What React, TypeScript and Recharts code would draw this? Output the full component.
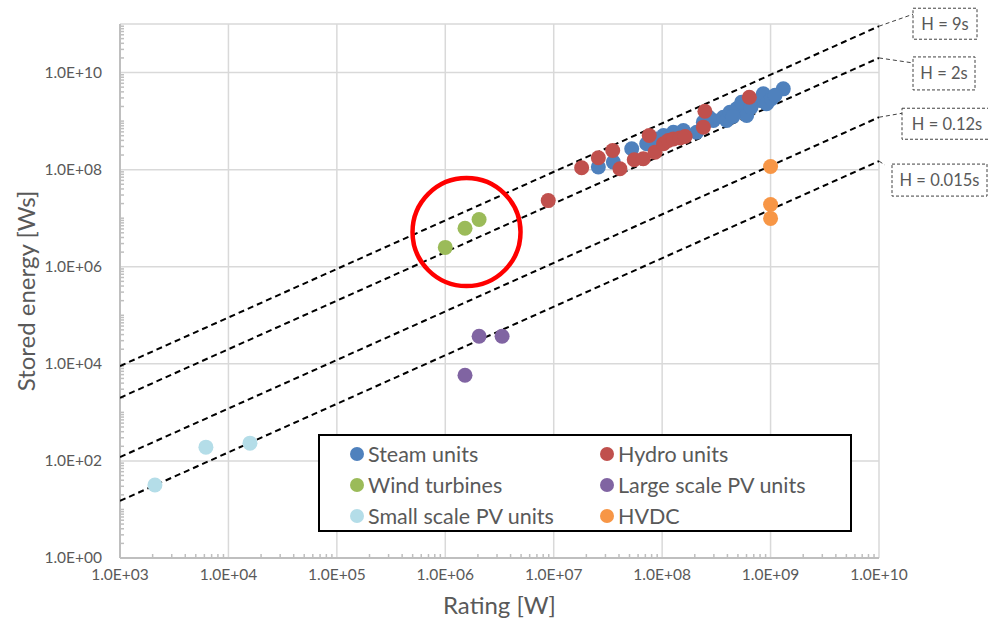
import React from 'react';
import { ScatterChart, Scatter, XAxis, YAxis, CartesianGrid, ReferenceLine, ReferenceDot, Label } from 'recharts';

// rating [W] vs stored energy [Ws]
const steamUnits = [
  { x: 2.58e7, y: 1.13e8 }, { x: 3.55e7, y: 1.43e8 }, { x: 5.24e7, y: 2.69e8 },
  { x: 7.2e7, y: 3.41e8 }, { x: 1.03e8, y: 5.05e8 }, { x: 1.27e8, y: 5.9e8 },
  { x: 1.57e8, y: 6.4e8 }, { x: 2.08e8, y: 5.9e8 }, { x: 2.4e8, y: 9.5e8 },
  { x: 2.97e8, y: 1.03e9 }, { x: 3.67e8, y: 1.2e9 }, { x: 3.94e8, y: 1.03e9 },
  { x: 4.22e8, y: 1.52e9 }, { x: 4.87e8, y: 1.79e9 }, { x: 5.41e8, y: 2.45e9 },
  { x: 6.02e8, y: 1.3e9 }, { x: 7.98e8, y: 2.65e9 }, { x: 8.57e8, y: 3.65e9 },
  { x: 9.2e8, y: 2.27e9 }, { x: 1.02e9, y: 2.88e9 }, { x: 1.31e9, y: 4.62e9 },
  { x: 4.5e8, y: 1.25e9 }, { x: 6.6e8, y: 1.9e9 }, { x: 1.1e9, y: 3.4e9 },
  { x: 8.8e7, y: 4.3e8 }, { x: 2.7e8, y: 1.2e9 },
];
const hydroUnits = [
  { x: 8.9e6, y: 2.3e7 }, { x: 1.81e7, y: 1.09e8 }, { x: 2.58e7, y: 1.76e8 },
  { x: 3.5e7, y: 2.48e8 }, { x: 4.08e7, y: 1.04e8 }, { x: 5.53e7, y: 1.6e8 },
  { x: 6.7e7, y: 1.68e8 }, { x: 7.6e7, y: 5.05e8 }, { x: 8.6e7, y: 2.29e8 },
  { x: 1.03e8, y: 3.41e8 }, { x: 1.14e8, y: 3.99e8 }, { x: 1.27e8, y: 4.3e8 },
  { x: 1.46e8, y: 4.5e8 }, { x: 1.63e8, y: 4.8e8 }, { x: 2.4e8, y: 7.5e8 },
  { x: 2.48e8, y: 1.6e9 }, { x: 6.37e8, y: 3.1e9 },
];
const windTurbines = [{ x: 1.0e6, y: 2.5e6 }, { x: 1.52e6, y: 6.2e6 }, { x: 2.05e6, y: 9.4e6 }];
const largePvUnits = [{ x: 1.52e6, y: 5.8e3 }, { x: 2.05e6, y: 3.7e4 }, { x: 3.34e6, y: 3.7e4 }];
const smallPvUnits = [{ x: 2.1e3, y: 32 }, { x: 6.2e3, y: 192 }, { x: 1.58e4, y: 232 }];
const hvdc = [{ x: 1e9, y: 1.16e8 }, { x: 1e9, y: 1.92e7 }, { x: 1e9, y: 9.9e6 }];

const highlightCenter = { x: 1.57e6, y: 5.18e6 };

const inertiaConstants = [9, 2, 0.12, 0.015];
const inertiaLabels = ['H = 9s', 'H = 2s', 'H = 0.12s', 'H = 0.015s'];

const xTicks = [1e3, 1e4, 1e5, 1e6, 1e7, 1e8, 1e9, 1e10];
const yTicks = [1, 1e2, 1e4, 1e6, 1e8, 1e10];
const xDomain = [1e3, 1e10];
const yDomain = [1, 1e11];

const series = [
  { name: 'Steam units', color: '#4F81BD', data: steamUnits },
  { name: 'Hydro units', color: '#C0504D', data: hydroUnits },
  { name: 'Wind turbines', color: '#9BBB59', data: windTurbines },
  { name: 'Large scale PV units', color: '#8064A2', data: largePvUnits },
  { name: 'Small scale PV units', color: '#B4DDE8', data: smallPvUnits },
  { name: 'HVDC', color: '#F79646', data: hvdc },
];

// callout placement relative to the end of each H line (px)
const callouts = [
  { lx: 34, ly: -12, bx: 34, by: -18, w: 64, h: 31 },
  { lx: 34, ly: 5, bx: 34, by: -1, w: 62, h: 33 },
  { lx: 23, ly: -4, bx: 23, by: -9, w: 90, h: 31 },
  { lx: 6, ly: 4, bx: 13, by: 3, w: 95, h: 32 },
];

const FONT = 'Lato, "Open Sans", sans-serif';
const GREY = '#595959';

const minorX: number[] = [];
for (let e = 3; e < 10; e++) for (let k = 2; k <= 9; k++) minorX.push(k * 10 ** e);
const minorY: number[] = [];
for (let e = 0; e < 11; e++) for (let k = 1; k <= 9; k++) if (!(k === 1 && e % 2 === 0)) minorY.push(k * 10 ** e);
const minorLenX = 10 ** (4 / 48.6);
const minorLenY = 10 ** (4 / 108.4);

const fmt = (v: number) => {
  const e = Math.round(Math.log10(v));
  return `1.0E+${String(e).padStart(2, '0')}`;
};

const XTick = (p: any) => (
  <text x={p.x} y={p.y} dy={12} textAnchor="middle" fontFamily={FONT} fontSize={15.5} fill={GREY}>
    {fmt(p.payload.value)}
  </text>
);
const YTick = (p: any) => (
  <text x={p.x} y={p.y} dy={5} textAnchor="end" fontFamily={FONT} fontSize={15.5} fill={GREY}>
    {fmt(p.payload.value)}
  </text>
);

const Dot = (color: string) => (p: any) => <circle cx={p.cx} cy={p.cy} r={7.5} fill={color} />;

const Callout = (i: number) => (p: any) => {
  const c = callouts[i];
  const { cx, cy } = p;
  return (
    <g>
      <line x1={cx} y1={cy} x2={cx + c.lx} y2={cy + c.ly} stroke="#404040" strokeWidth={1} strokeDasharray="4 3" />
      <rect x={cx + c.bx} y={cy + c.by} width={c.w} height={c.h} fill="#fff" stroke="#404040" strokeWidth={1} strokeDasharray="3 2" />
      <text x={cx + c.bx + c.w / 2} y={cy + c.by + c.h / 2} textAnchor="middle" dominantBaseline="central" fontFamily={FONT} fontSize={16.5} fill={GREY}>
        {inertiaLabels[i]}
      </text>
    </g>
  );
};

const legendRows = [[0, 1], [2, 3], [4, 5]];

export default function App() {
  return (
    <div style={{ position: 'absolute', left: 0, top: 0, width: 988, height: 619, background: '#fff', fontFamily: FONT }}>
      <ScatterChart width={988} height={619} margin={{ top: 24, right: 109, bottom: 0, left: 0 }}>
        <CartesianGrid stroke="#d9d9d9" strokeWidth={1.5} />
        <XAxis
          type="number" dataKey="x" scale="log" domain={xDomain} ticks={xTicks} interval={0}
          height={61} tickSize={0} tickMargin={10}
          axisLine={{ stroke: '#bfbfbf', strokeWidth: 2 }}
          tick={XTick}
          allowDataOverflow
        >
          <Label value="Rating [W]" position="insideBottom" offset={5} fill={GREY} fontSize={24} fontFamily={FONT} />
        </XAxis>
        <YAxis
          type="number" dataKey="y" scale="log" domain={yDomain} ticks={yTicks} interval={0}
          width={120} tickSize={0} tickMargin={18}
          axisLine={{ stroke: '#bfbfbf', strokeWidth: 2 }}
          tick={YTick}
          allowDataOverflow
        >
          <Label value="Stored energy [Ws]" angle={-90} position="insideLeft" offset={26} fill={GREY} fontSize={24} fontFamily={FONT} style={{ textAnchor: 'middle' }} />
        </YAxis>
        {minorX.map((v) => (
          <ReferenceLine key={'mx' + v} segment={[{ x: v, y: yDomain[0] }, { x: v, y: yDomain[0] * minorLenX }]} stroke="#bfbfbf" strokeWidth={1.5} />
        ))}
        {minorY.map((v) => (
          <ReferenceLine key={'my' + v} segment={[{ x: xDomain[0], y: v }, { x: xDomain[0] * minorLenY, y: v }]} stroke="#bfbfbf" strokeWidth={1.5} />
        ))}
        {inertiaConstants.map((h) => (
          <Scatter
            key={'h' + h}
            data={xDomain.map((x) => ({ x, y: h * x }))}
            line={{ stroke: '#000', strokeWidth: 2, strokeDasharray: '6 4' }}
            shape={() => <g />}
            isAnimationActive={false}
          />
        ))}
        {series.map((s) => (
          <Scatter key={s.name} name={s.name} data={s.data} shape={Dot(s.color)} isAnimationActive={false} />
        ))}
        <ReferenceDot x={highlightCenter.x} y={highlightCenter.y} r={54} fill="none" stroke="#FF0000" strokeWidth={4.5} />
        {inertiaConstants.map((h, i) => (
          <ReferenceDot key={'c' + h} x={xDomain[1]} y={h * xDomain[1]} r={0} shape={Callout(i)} />
        ))}
      </ScatterChart>
      <div
        style={{
          position: 'absolute', left: 318, top: 434, width: 534, height: 98, boxSizing: 'border-box',
          border: '2px solid #000', background: '#fff', paddingTop: 2, paddingLeft: 30,
        }}
      >
        {legendRows.map((row, r) => (
          <div key={r} style={{ display: 'flex', height: 31, alignItems: 'center' }}>
            {row.map((idx) => (
              <div key={idx} style={{ width: 262, display: 'flex', alignItems: 'center', fontSize: 21.5, color: GREY, whiteSpace: 'nowrap' }}>
                <span style={{ width: 14, height: 14, borderRadius: 7, background: series[idx].color, marginRight: 4, display: 'inline-block', flexShrink: 0 }} />
                {series[idx].name}
              </div>
            ))}
          </div>
        ))}
      </div>
    </div>
  );
}
